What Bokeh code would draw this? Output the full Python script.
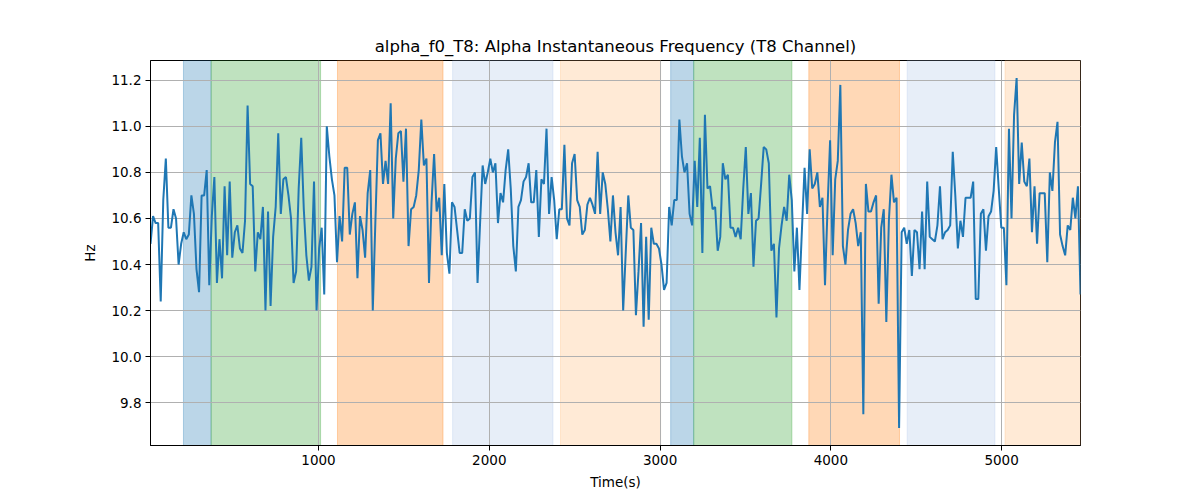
import numpy as np
from bokeh.plotting import figure
from bokeh.models import Range1d, ColumnDataSource, FixedTicker, PrintfTickFormatter
from bokeh.embed import file_html
from bokeh.resources import INLINE

# ---- data ----
freq_hz = [
    10.49, 10.61, 10.58, 10.58, 10.24, 10.68, 10.86, 10.56, 10.56, 10.64, 10.60, 10.40, 10.49, 10.54, 10.51, 10.53,
    10.70, 10.62, 10.38, 10.28, 10.70, 10.70, 10.81, 10.31, 10.61, 10.78, 10.32, 10.51, 10.34, 10.74, 10.44, 10.76,
    10.43, 10.54, 10.57, 10.47, 10.45, 10.59, 11.09, 10.75, 10.74, 10.37, 10.54, 10.51, 10.65, 10.20,
    10.63, 10.22, 10.52, 10.65, 10.97, 10.62, 10.77, 10.78, 10.70, 10.60, 10.32, 10.37, 10.73, 10.95, 10.64, 10.44,
    10.33, 10.39, 10.76, 10.20, 10.47, 10.56, 10.27, 11.00, 10.87, 10.77, 10.70, 10.41, 10.61, 10.50, 10.82, 10.82,
    10.53, 10.62, 10.67, 10.34, 10.61, 10.55, 10.43, 10.71, 10.81, 10.20, 10.58, 10.94, 10.97,
    10.75, 10.85, 10.75, 11.10, 10.60, 10.86, 10.97, 10.98, 10.76, 10.99, 10.48, 10.64, 10.65, 10.70, 10.81, 11.03,
    10.83, 10.86, 10.32, 10.67, 10.88, 10.63, 10.69, 10.44, 10.75, 10.45, 10.36, 10.67, 10.65, 10.55, 10.45, 10.45,
    10.64, 10.59, 10.60, 10.78, 10.80, 10.32, 10.58, 10.83, 10.75, 10.80, 10.86, 10.80, 10.84,
    10.58, 10.71, 10.67, 10.81, 10.90, 10.73, 10.48, 10.37, 10.65, 10.68, 10.76, 10.78, 10.84, 10.67, 10.67, 10.81,
    10.52, 10.77, 10.75, 10.99, 10.62, 10.78, 10.68, 10.51, 10.64, 10.64, 10.92, 10.60, 10.57, 10.84, 10.88, 10.68,
    10.65, 10.53, 10.55, 10.66, 10.69, 10.66, 10.62, 10.89, 10.62, 10.80, 10.75, 10.64, 10.50,
    10.70, 10.54, 10.44, 10.65, 10.20, 10.45, 10.70, 10.56, 10.55, 10.18, 10.37, 10.58, 10.13, 10.52, 10.16, 10.56,
    10.49, 10.49, 10.47, 10.40, 10.29, 10.32, 10.65, 10.57, 10.68, 10.68, 11.03, 10.87, 10.80, 10.84, 10.62, 10.57,
    10.85, 10.65, 10.95, 10.45, 11.05, 10.73, 10.74, 10.64, 10.65, 10.46, 10.52, 10.84, 10.77,
    10.79, 10.56, 10.56, 10.52, 10.56, 10.51, 10.73, 10.91, 10.62, 10.71, 10.39, 10.59, 10.60, 10.75, 10.91, 10.90,
    10.84, 10.46, 10.49, 10.17, 10.47, 10.57, 10.65, 10.59, 10.79, 10.68, 10.37, 10.56, 10.29, 10.56, 10.82, 10.62,
    10.90, 10.73, 10.75, 10.80, 10.65, 10.69, 10.31, 10.65, 10.94, 10.44, 10.77, 10.85, 11.18,
    10.48, 10.40, 10.55, 10.62, 10.64, 10.58, 10.48, 10.54, 9.75, 10.75, 10.63, 10.63, 10.67, 10.70, 10.23, 10.56,
    10.64, 10.15, 10.59, 10.79, 10.67, 10.69, 9.69, 10.54, 10.56, 10.49, 10.55, 10.35, 10.55, 10.54, 10.38, 10.63,
    10.38, 10.76, 10.52, 10.51, 10.50, 10.57, 10.74, 10.51, 10.54, 10.55, 10.57, 10.89, 10.70,
    10.47, 10.59, 10.52, 10.69, 10.69, 10.69, 10.76, 10.25, 10.25, 10.62, 10.64, 10.46, 10.61, 10.63, 10.72, 10.91,
    10.73, 10.56, 10.56, 10.31, 10.99, 10.60, 11.05, 11.21, 10.75, 10.93, 10.76, 10.74, 10.86, 10.54, 10.74, 10.49,
    10.71, 10.71, 10.71, 10.41, 10.80, 10.72, 10.93, 11.02, 10.53, 10.48, 10.44, 10.57, 10.55, 10.69, 10.60, 10.74,
    10.27,
]
time_start_s = 16.0
time_end_s = 5462.0

span_starts = [209, 371, 1111, 1785, 2417, 3062, 3197, 3871, 4447, 5020]
span_ends = [371, 1012, 1729, 2373, 3003, 3197, 3772, 4402, 4961, 5462]
span_kinds = ["blue", "green", "orange", "lightblue", "lightorange",
              "blue", "green", "orange", "lightblue", "lightorange"]
kind_colors = {"blue": "#1f77b4", "green": "#2ca02c", "orange": "#ff7f0e",
               "lightblue": "#aec7e8", "lightorange": "#ffbb78"}

x_ticks = [1000, 2000, 3000, 4000, 5000]
y_ticks = [9.8, 10.0, 10.2, 10.4, 10.6, 10.8, 11.0, 11.2]

# ---- build ----
times = np.linspace(time_start_s, time_end_s, len(freq_hz))
vmin, vmax = min(freq_hz), max(freq_hz)
pad = 0.05 * (vmax - vmin)
y0, y1 = vmin - pad, vmax + pad

p = figure(width=1184, height=492, output_backend="svg", toolbar_location=None,
           x_range=Range1d(times[0], times[-1]), y_range=Range1d(y0, y1),
           min_border_left=150, min_border_right=104, min_border_top=60, min_border_bottom=47,
           title="alpha_f0_T8: Alpha Instantaneous Frequency (T8 Channel)")

span_src = ColumnDataSource(dict(
    left=span_starts, right=span_ends,
    bottom=[y0] * len(span_starts), top=[y1] * len(span_starts),
    color=[kind_colors[k] for k in span_kinds]))
p.quad(left="left", right="right", bottom="bottom", top="top", source=span_src,
       fill_color="color", fill_alpha=0.3, line_color="color", line_alpha=0.3,
       line_width=1, level="image")

p.line(times, freq_hz, line_color="#1f77b4", line_width=2)

font = "DejaVu Sans"
p.title.align = "center"
p.title.text_font = font
p.title.text_font_style = "normal"
p.title.text_font_size = "16.5px"
p.title.text_color = "black"

for ax in (p.xaxis[0], p.yaxis[0]):
    ax.major_label_text_font = font
    ax.major_label_text_font_size = "13.5px"
    ax.major_label_text_color = "black"
    ax.axis_label_text_font = font
    ax.axis_label_text_font_size = "13.5px"
    ax.axis_label_text_font_style = "normal"
    ax.axis_label_text_color = "black"
    ax.major_tick_in = 0
    ax.major_tick_out = 5
    ax.minor_tick_in = 0
    ax.minor_tick_out = 0
    ax.axis_line_color = "black"
    ax.major_tick_line_color = "black"
    ax.major_label_standoff = 4

p.xaxis.axis_label = "Time(s)"
p.yaxis.axis_label = "Hz"
p.xaxis.ticker = FixedTicker(ticks=x_ticks)
p.yaxis.ticker = FixedTicker(ticks=y_ticks)
p.yaxis.formatter = PrintfTickFormatter(format="%.1f")
p.yaxis.axis_label_standoff = 10
p.xaxis.axis_label_standoff = 6

p.xgrid.ticker = FixedTicker(ticks=x_ticks)
p.ygrid.ticker = FixedTicker(ticks=y_ticks)
for g in (p.xgrid[0], p.ygrid[0]):
    g.grid_line_color = "#b0b0b0"
    g.grid_line_width = 1
    g.grid_line_alpha = 1.0

p.outline_line_color = "black"
p.outline_line_alpha = 1.0
p.outline_line_width = 1
p.background_fill_color = "white"
p.border_fill_color = "white"

open("out.html", "w").write(file_html(p, INLINE))
